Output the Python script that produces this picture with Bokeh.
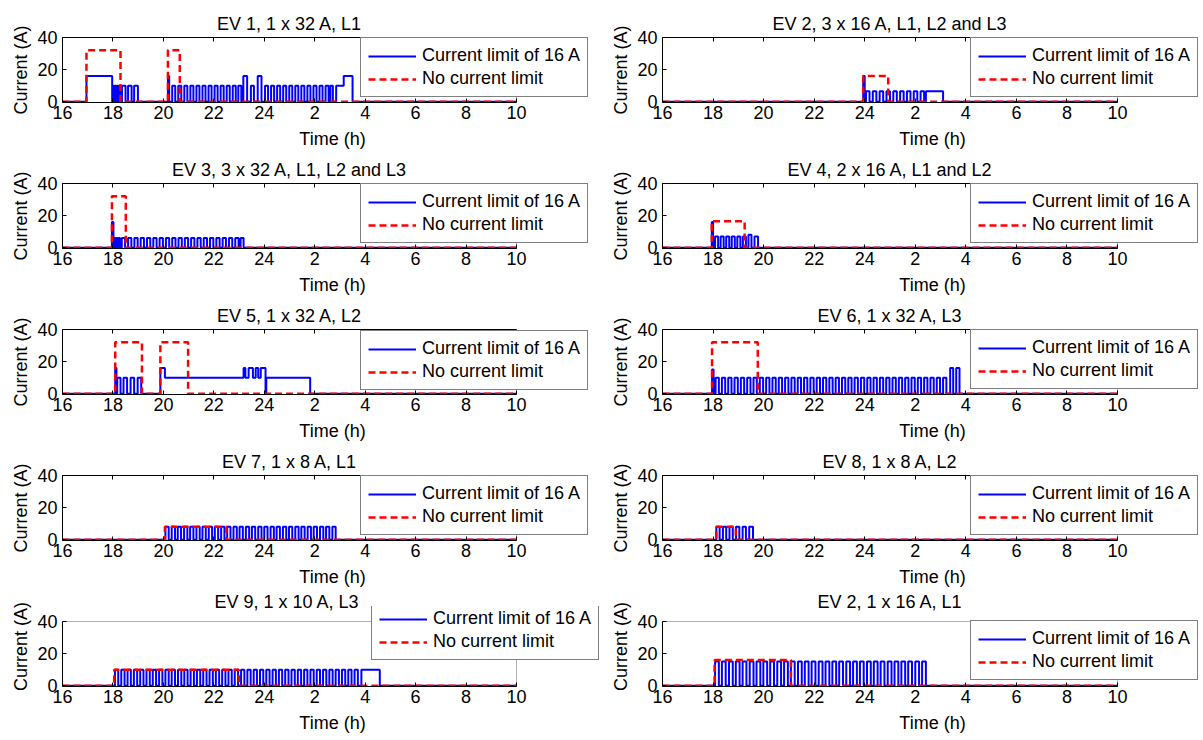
from bokeh.plotting import figure
from bokeh.models import Range1d, FixedTicker, LinearAxis, Legend, LegendItem, BoxAnnotation
from bokeh.layouts import column, row
from bokeh.embed import file_html
from bokeh.resources import INLINE

FONT = "Liberation Sans"

# ---------------- data ----------------
titles = [
    "EV 1, 1 x 32 A, L1", "EV 2, 3 x 16 A, L1, L2 and L3",
    "EV 3, 3 x 32 A, L1, L2 and L3", "EV 4, 2 x 16 A, L1 and L2",
    "EV 5, 1 x 32 A, L2", "EV 6, 1 x 32 A, L3",
    "EV 7, 1 x 8 A, L1", "EV 8, 1 x 8 A, L2",
    "EV 9,  1 x 10 A, L3", "EV 2, 1 x 16 A, L1",
]
series_names = ["Current limit of 16 A", "No current limit"]
x_ticks = [16, 18, 20, 22, 24, 26, 28, 30, 32, 34]
x_tick_labels = ["16", "18", "20", "22", "24", "2", "4", "6", "8", "10"]
y_ticks = [0, 20, 40]

# pulses: (switch-on hour, switch-off hour, current A); hours past 24 = next day
blue_ev1 = [(16.95, 17.97, 16),
            (17.99, 18.04, 10), (18.07, 18.12, 10), (18.15, 18.20, 10), (18.23, 18.28, 10),
            (18.36, 18.50, 10), (18.60, 18.74, 10), (18.84, 18.99, 10),
            (20.18, 20.23, 16),
            (20.35, 20.47, 10), (20.59, 20.71, 10), (20.83, 20.95, 10), (21.07, 21.19, 10),
            (21.31, 21.43, 10), (21.55, 21.67, 10), (21.79, 21.91, 10), (22.03, 22.15, 10),
            (22.27, 22.39, 10), (22.51, 22.63, 10), (22.75, 22.87, 10), (22.97, 23.09, 10),
            (23.17, 23.32, 16), (23.47, 23.59, 10), (23.74, 23.89, 16),
            (24.03, 24.15, 10), (24.27, 24.39, 10), (24.51, 24.63, 10), (24.75, 24.87, 10),
            (24.99, 25.11, 10), (25.23, 25.35, 10), (25.47, 25.59, 10), (25.71, 25.83, 10),
            (25.95, 26.07, 10), (26.19, 26.31, 10), (26.43, 26.55, 10), (26.62, 26.72, 10),
            (26.85, 27.15, 10), (27.15, 27.50, 16)]
red_ev1 = [(16.95, 18.30, 32), (20.18, 20.65, 32)]

blue_ev2 = [(23.94, 24.00, 16), (24.05, 24.19, 6.5), (24.32, 24.46, 6.5), (24.59, 24.73, 6.5),
            (24.86, 25.00, 6.5), (25.13, 25.27, 6.5), (25.40, 25.54, 6.5), (25.67, 25.81, 6.5),
            (25.94, 26.08, 6.5), (26.21, 26.35, 6.5), (26.42, 27.10, 6.5)]
red_ev2 = [(23.94, 24.93, 16)]

blue_ev3 = [(17.96, 18.02, 16), (18.07, 18.12, 6), (18.15, 18.20, 6), (18.23, 18.28, 6),
            (18.35, 18.48, 6), (18.60, 18.73, 6), (18.85, 18.98, 6), (19.10, 19.23, 6),
            (19.35, 19.48, 6), (19.60, 19.73, 6), (19.85, 19.98, 6), (20.10, 20.23, 6),
            (20.35, 20.48, 6), (20.60, 20.73, 6), (20.85, 20.98, 6), (21.10, 21.23, 6),
            (21.35, 21.48, 6), (21.60, 21.73, 6), (21.85, 21.98, 6), (22.10, 22.23, 6),
            (22.35, 22.48, 6), (22.60, 22.73, 6), (22.85, 22.98, 6), (23.06, 23.18, 6)]
red_ev3 = [(17.96, 18.51, 32)]

blue_ev4 = [(17.95, 18.00, 16), (18.08, 18.20, 7), (18.30, 18.42, 7), (18.52, 18.64, 7),
            (18.74, 18.86, 7), (18.96, 19.08, 7), (19.18, 19.30, 7), (19.40, 19.52, 8),
            (19.64, 19.78, 7)]
red_ev4 = [(17.95, 19.25, 16.5)]

blue_ev5 = [(18.09, 18.14, 16), (18.17, 18.30, 10), (18.42, 18.56, 10), (18.70, 18.84, 10),
            (18.98, 19.12, 10), (19.88, 20.06, 16), (20.06, 23.18, 10), (23.18, 23.25, 16),
            (23.25, 23.38, 10), (23.38, 23.55, 16), (23.55, 23.66, 10), (23.66, 23.76, 16),
            (23.76, 23.86, 10), (23.86, 24.05, 16), (24.08, 25.82, 10)]
red_ev5 = [(18.09, 19.15, 32), (19.88, 20.98, 32)]

blue_ev6 = [(17.96, 18.02, 15),
            (18.10, 18.23, 10), (18.35, 18.48, 10), (18.60, 18.73, 10), (18.85, 18.98, 10),
            (19.10, 19.23, 10), (19.35, 19.48, 10), (19.60, 19.73, 10), (19.85, 19.98, 10),
            (20.10, 20.23, 10), (20.35, 20.48, 10), (20.60, 20.73, 10), (20.85, 20.98, 10),
            (21.10, 21.23, 10), (21.35, 21.48, 10), (21.60, 21.73, 10), (21.85, 21.98, 10),
            (22.10, 22.23, 10), (22.35, 22.48, 10), (22.60, 22.73, 10), (22.85, 22.98, 10),
            (23.10, 23.23, 10), (23.35, 23.48, 10), (23.60, 23.73, 10), (23.85, 23.98, 10),
            (24.10, 24.23, 10), (24.35, 24.48, 10), (24.60, 24.73, 10), (24.85, 24.98, 10),
            (25.10, 25.23, 10), (25.35, 25.48, 10), (25.60, 25.73, 10), (25.85, 25.98, 10),
            (26.10, 26.23, 10), (26.35, 26.48, 10), (26.60, 26.73, 10), (26.85, 26.98, 10),
            (27.10, 27.23, 10), (27.38, 27.50, 16), (27.62, 27.75, 16)]
red_ev6 = [(17.96, 19.77, 32)]

blue_ev7 = [(20.08, 20.21, 8), (20.33, 20.46, 8), (20.57, 20.70, 8), (20.82, 20.95, 8),
            (21.06, 21.19, 8), (21.31, 21.44, 8), (21.55, 21.68, 8), (21.80, 21.93, 8),
            (22.04, 22.17, 8), (22.29, 22.42, 8), (22.53, 22.66, 8), (22.78, 22.91, 8),
            (23.02, 23.15, 8), (23.27, 23.40, 8), (23.51, 23.64, 8), (23.76, 23.89, 8),
            (24.00, 24.13, 8), (24.25, 24.38, 8), (24.49, 24.62, 8), (24.74, 24.87, 8),
            (24.98, 25.11, 8), (25.23, 25.36, 8), (25.47, 25.60, 8), (25.72, 25.85, 8),
            (25.96, 26.09, 8), (26.21, 26.34, 8), (26.45, 26.58, 8), (26.70, 26.83, 8)]
red_ev7 = [(20.06, 22.50, 8)]

blue_ev8 = [(18.13, 18.26, 8), (18.39, 18.52, 8), (18.65, 18.78, 8), (18.91, 19.04, 8),
            (19.17, 19.30, 8), (19.43, 19.58, 8)]
red_ev8 = [(18.13, 18.90, 8)]

blue_ev9 = [(18.08, 18.21, 10), (18.33, 18.46, 10), (18.58, 18.71, 10), (18.83, 18.96, 10),
            (19.08, 19.21, 10), (19.33, 19.46, 10), (19.58, 19.71, 10), (19.83, 19.96, 10),
            (20.08, 20.21, 10), (20.33, 20.46, 10), (20.58, 20.71, 10), (20.83, 20.96, 10),
            (21.08, 21.21, 10), (21.33, 21.46, 10), (21.58, 21.71, 10), (21.83, 21.96, 10),
            (22.08, 22.21, 10), (22.33, 22.46, 10), (22.58, 22.71, 10), (22.83, 22.96, 10),
            (23.08, 23.21, 10), (23.33, 23.46, 10), (23.58, 23.71, 10), (23.83, 23.96, 10),
            (24.08, 24.21, 10), (24.33, 24.46, 10), (24.58, 24.71, 10), (24.83, 24.96, 10),
            (25.08, 25.21, 10), (25.33, 25.46, 10), (25.58, 25.71, 10), (25.83, 25.96, 10),
            (26.08, 26.21, 10), (26.33, 26.46, 10), (26.58, 26.71, 10), (26.83, 26.96, 10),
            (27.08, 27.21, 10), (27.33, 27.46, 10), (27.58, 27.71, 10), (27.85, 28.58, 10)]
red_ev9 = [(18.05, 22.99, 10)]

blue_ev10 = [(18.08, 18.23, 15), (18.35, 18.50, 15), (18.63, 18.78, 15), (18.90, 19.05, 15),
             (19.17, 19.32, 15), (19.45, 19.60, 15), (19.72, 19.87, 15), (19.99, 20.14, 15),
             (20.26, 20.41, 15), (20.54, 20.69, 15), (20.81, 20.96, 15), (21.08, 21.23, 15),
             (21.36, 21.51, 15), (21.63, 21.78, 15), (21.90, 22.05, 15), (22.18, 22.33, 15),
             (22.45, 22.60, 15), (22.72, 22.87, 15), (22.99, 23.14, 15), (23.27, 23.42, 15),
             (23.54, 23.69, 15), (23.81, 23.96, 15), (24.09, 24.24, 15), (24.36, 24.51, 15),
             (24.63, 24.78, 15), (24.91, 25.06, 15), (25.18, 25.33, 15), (25.45, 25.60, 15),
             (25.72, 25.87, 15), (26.00, 26.15, 15), (26.27, 26.42, 15)]
red_ev10 = [(18.06, 21.08, 16)]

blue_all = [blue_ev1, blue_ev2, blue_ev3, blue_ev4, blue_ev5, blue_ev6, blue_ev7, blue_ev8, blue_ev9, blue_ev10]
red_all = [red_ev1, red_ev2, red_ev3, red_ev4, red_ev5, red_ev6, red_ev7, red_ev8, red_ev9, red_ev10]

T0, T1 = x_ticks[0], x_ticks[-1]
Y0, Y1 = -0.5, y_ticks[-1]

# Arial/Liberation Sans advance widths (1/1000 em) used to centre titles over the box
ADV = {" ": 278, ",": 278, "x": 500, "A": 667, "E": 667, "V": 667, "L": 556,
       "a": 556, "n": 556, "d": 556}


def text_w(s, size=18):
    return sum(ADV.get(c, 556) for c in s) * size / 1000.0


def step_xy(pulses):
    xs, ys = [T0], [0.0]
    cur = 0.0
    for i, (on, off, lv) in enumerate(pulses):
        xs += [on, on]
        ys += [cur, lv]
        cur = lv
        nxt = pulses[i + 1][0] if i + 1 < len(pulses) else None
        if nxt is None or nxt > off + 1e-9:
            xs += [off, off]
            ys += [lv, 0.0]
            cur = 0.0
    xs.append(T1)
    ys.append(0.0)
    return xs, ys


# legend placement (offset from frame's bottom-left, px)
legend_pos = [(298, 5), (308, 5), (298, 5), (308, 5), (298, 4), (308, 5),
              (298, 5), (308, 5), (309, 26), (308, 6)]


def style_axis(ax, label, standoff, label_standoff):
    ax.axis_label = label
    ax.axis_line_color = "black"
    ax.major_tick_line_color = "black"
    ax.major_tick_in = 4
    ax.major_tick_out = 0
    ax.minor_tick_line_color = None
    ax.major_label_text_font = FONT
    ax.major_label_text_font_size = "18px"
    ax.major_label_text_color = "black"
    ax.major_label_standoff = standoff
    ax.axis_label_text_font = FONT
    ax.axis_label_text_font_size = "18px"
    ax.axis_label_text_font_style = "normal"
    ax.axis_label_text_color = "black"
    ax.axis_label_standoff = label_standoff


def blank_axis(ticks, bounds):
    ax = LinearAxis(ticker=FixedTicker(ticks=ticks), bounds=bounds)
    ax.axis_line_color = "black"
    ax.major_tick_line_color = "black"
    ax.major_tick_in = 4
    ax.major_tick_out = 0
    ax.minor_tick_line_color = None
    ax.major_label_text_font_size = "1px"
    ax.major_label_text_color = None
    ax.major_label_standoff = 0
    ax.axis_label_standoff = 0
    return ax


def make_panel(i):
    col = i % 2
    r = i // 2
    w = 603 if col == 0 else 600
    bl = 62 if col == 0 else 59
    box_w = 454 if col == 0 else 455       # width of the boxed axes area
    fw = w - bl - 1                        # frame reaches the right edge so the legend is not clipped
    x_end = T0 + fw * (T1 - T0) / box_w
    h = 152 if r == 0 else 146
    bt = 37 if r == 0 else 31
    box_h = 65
    ext = 15 if r == 4 else 0              # bottom row: EV 9 legend pokes above the box
    y_end = Y1 + ext * (Y1 - Y0) / box_h
    p = figure(width=w, height=h, output_backend="svg", toolbar_location=None,
               x_range=Range1d(T0, x_end), y_range=Range1d(Y0, y_end),
               min_border_left=bl, min_border_right=1,
               min_border_top=bt - ext, min_border_bottom=h - bt - box_h,
               background_fill_color="white", border_fill_color="white")
    p.title.text = titles[i]
    p.title.text_font = FONT
    p.title.text_font_size = "18px"
    p.title.text_font_style = "normal"
    p.title.text_color = "black"
    p.title.align = "left"
    p.title.offset = box_w / 2 - text_w(titles[i]) / 2
    p.title.standoff = 7 - ext - (2 if ext else 0)
    p.xgrid.visible = False
    p.ygrid.visible = False
    p.outline_line_color = None

    xa = p.xaxis[0]
    style_axis(xa, "Time (h)", 3, 7)
    xa.ticker = FixedTicker(ticks=x_ticks)
    xa.bounds = (T0, T1)
    xa.major_label_overrides = {t: s for t, s in zip(x_ticks, x_tick_labels)}
    ya = p.yaxis[0]
    style_axis(ya, "Current (A)", 5, 3)
    ya.ticker = FixedTicker(ticks=y_ticks)
    ya.bounds = (Y0, Y1)

    if ext == 0:
        p.add_layout(blank_axis(x_ticks, (T0, T1)), "above")
    p.add_layout(BoxAnnotation(left=T0, right=T1, bottom=Y0, top=Y1, fill_color=None,
                               line_color="black", line_width=1, level="underlay"))

    bx, by = step_xy(blue_all[i])
    rx, ry = step_xy(red_all[i])
    rb = p.line(bx, by, line_color="#0000ff", line_width=2)
    rr = p.line(rx, ry, line_color="#ff0000", line_width=2.5, line_dash="7 4")

    leg = Legend(items=[LegendItem(label=series_names[0], renderers=[rb]),
                        LegendItem(label=series_names[1], renderers=[rr])],
                 location=legend_pos[i], border_line_color="black", border_line_width=1,
                 background_fill_color="white", background_fill_alpha=1,
                 label_text_font=FONT, label_text_font_size="18px", label_text_color="black",
                 glyph_width=48, glyph_height=20, label_height=20, label_standoff=6,
                 padding=7, spacing=2, margin=0, level="overlay")
    p.add_layout(leg, "center")
    return p


panels = [make_panel(i) for i in range(10)]
layout = column([row(panels[2 * r], panels[2 * r + 1]) for r in range(5)])

open("out.html", "w").write(file_html(layout, INLINE))
